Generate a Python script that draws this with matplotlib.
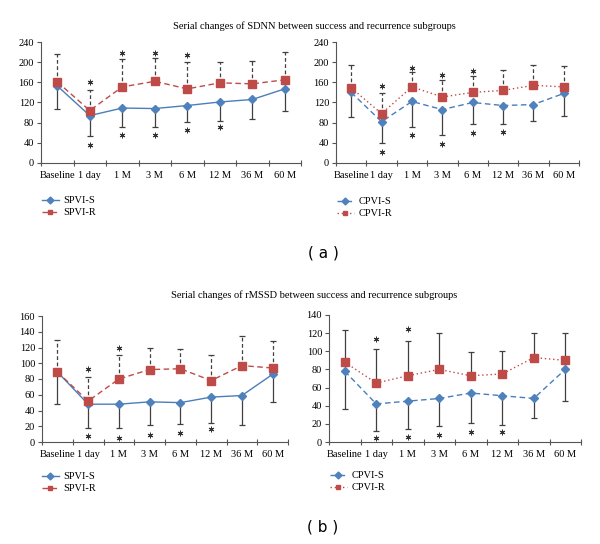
import numpy as np
import matplotlib.pyplot as plt

categories = ["Baseline", "1 day", "1 M", "3 M", "6 M", "12 M", "36 M", "60 M"]

# (a) SDNN
sdnn_spvi_s = [153, 94, 109, 108, 114, 121, 126, 147]
sdnn_spvi_r = [161, 104, 151, 162, 147, 159, 157, 165]
sdnn_spvi_lo = [107, 53, 71, 72, 82, 83, 87, 103]
sdnn_spvi_hi = [216, 145, 206, 209, 201, 200, 203, 221]
sdnn_spvi_star_top = [np.nan, 160, 219, 219, 214, np.nan, np.nan, np.nan]
sdnn_spvi_star_bot = [np.nan, 35, 56, 56, 66, 71, np.nan, np.nan]

sdnn_cpvi_s = [140, 82, 122, 106, 120, 114, 116, 138]
sdnn_cpvi_r = [149, 98, 151, 131, 140, 144, 154, 151]
sdnn_cpvi_lo = [91, 39, 72, 56, 77, 77, 83, 93]
sdnn_cpvi_hi = [195, 139, 180, 165, 172, 185, 195, 193]
sdnn_cpvi_star_top = [np.nan, 152, 188, 175, 183, np.nan, np.nan, np.nan]
sdnn_cpvi_star_bot = [np.nan, 21, 56, 38, 59, 61, np.nan, np.nan]

# (b) rMSSD
rmssd_spvi_s = [89, 48, 48, 51, 50, 57, 59, 86]
rmssd_spvi_r = [89, 52, 80, 92, 93, 78, 97, 94]
rmssd_spvi_lo = [48, 18, 18, 22, 23, 24, 21, 51]
rmssd_spvi_hi = [129, 82, 110, 120, 118, 111, 134, 128]
rmssd_spvi_star_top = [np.nan, 93, 120, np.nan, np.nan, np.nan, np.nan, np.nan]
rmssd_spvi_star_bot = [np.nan, 8, 5, 9, 11, 16, np.nan, np.nan]

rmssd_cpvi_s = [78, 42, 45, 48, 54, 51, 48, 80]
rmssd_cpvi_r = [88, 65, 73, 80, 73, 75, 93, 90]
rmssd_cpvi_lo = [36, 12, 14, 18, 21, 19, 27, 45]
rmssd_cpvi_hi = [123, 102, 111, 120, 99, 100, 120, 120]
rmssd_cpvi_star_top = [np.nan, 113, 125, np.nan, np.nan, np.nan, np.nan, np.nan]
rmssd_cpvi_star_bot = [np.nan, 4, 5, 8, 11, 11, np.nan, np.nan]

BLUE = "#4A7EBB"
RED = "#BE4B48"
BAR = "#404040"
SERIF = "Liberation Serif"

W, H = 600, 544
fig = plt.figure(figsize=(W / 100, H / 100), dpi=100)


def px_axes(x0, y0, x1, y1):
    return fig.add_axes([x0 / W, 1 - y1 / H, (x1 - x0) / W, (y1 - y0) / H])


def draw_panel(ax, s, r, lo, hi, star_top, star_bot, ymax, ystep,
               s_ls, r_ls, hi_ls, labels):
    x = np.arange(len(categories))
    s = np.array(s, float)
    r = np.array(r, float)
    # error bars: SD down from success group, up from recurrence group
    ax.vlines(x, lo, s, color=BAR, lw=0.9, zorder=1)
    ax.plot(x, lo, ls="none", marker="_", ms=4, mew=0.9, color=BAR, zorder=1)
    ax.vlines(x, r, hi, color=BAR, lw=0.9, linestyles=hi_ls, zorder=1)
    ax.plot(x, hi, ls="none", marker="_", ms=4, mew=0.9, color=BAR, zorder=1)
    # series
    ax.plot(x, s, ls=s_ls, lw=1.0, color=BLUE, marker="D", ms=4,
            mfc="#4F81BD", mec="#4F81BD", label=labels[0], zorder=3)
    ax.plot(x, r, ls=r_ls, lw=1.0, color=RED, marker="s", ms=5.5,
            mfc=RED, mec=RED, label=labels[1], zorder=3)
    # significance stars
    ax.plot(x, star_top, ls="none", marker=(6, 2, 0), ms=4, mew=0.7, color="#333333")
    ax.plot(x, star_bot, ls="none", marker=(6, 2, 0), ms=4, mew=0.7, color="#333333")

    ax.set_xlim(-0.5, len(categories) - 0.5)
    ax.set_ylim(0, ymax)
    ax.set_yticks(np.arange(0, ymax + 1, ystep))
    ax.set_xticks(np.arange(-0.5, len(categories)), labels=[""] * (len(categories) + 1))
    ax.set_xticks(x, labels=categories, minor=True)
    ax.tick_params(axis="x", which="major", direction="inout", length=4, width=0.8, color="#555555")
    ax.tick_params(axis="x", which="minor", length=0, pad=6)
    ax.tick_params(axis="y", direction="out", length=3, width=0.8, color="#555555", pad=2)
    for lab in ax.get_xticklabels(minor=True) + ax.get_yticklabels():
        lab.set_fontfamily(SERIF)
        lab.set_fontsize(7.5)
    for sp in ["top", "right"]:
        ax.spines[sp].set_visible(False)
    for sp in ["left", "bottom"]:
        ax.spines[sp].set_color("#555555")
        ax.spines[sp].set_linewidth(0.8)
    return ax


def legend(ax, x, y):
    leg = ax.legend(loc="upper left", bbox_to_anchor=(x, y), bbox_transform=fig.transFigure,
                    frameon=False, prop={"family": SERIF, "size": 7.5},
                    handlelength=1.6, handletextpad=0.45, labelspacing=0.25,
                    borderaxespad=0, borderpad=0)
    for h in leg.legend_handles:
        h.set_markersize(3.5)


ax1 = px_axes(41, 42, 301, 163)
draw_panel(ax1, sdnn_spvi_s, sdnn_spvi_r, sdnn_spvi_lo, sdnn_spvi_hi,
           sdnn_spvi_star_top, sdnn_spvi_star_bot, 240, 40,
           "-", (0, (4, 2.5)), (0, (3, 2)), ["SPVI-S", "SPVI-R"])
legend(ax1, 42 / W, 1 - 196 / H)

ax2 = px_axes(336, 42, 579, 163)
draw_panel(ax2, sdnn_cpvi_s, sdnn_cpvi_r, sdnn_cpvi_lo, sdnn_cpvi_hi,
           sdnn_cpvi_star_top, sdnn_cpvi_star_bot, 240, 40,
           (0, (4, 2.5)), (0, (1, 2)), (0, (3, 2)), ["CPVI-S", "CPVI-R"])
legend(ax2, 337 / W, 1 - 197 / H)

ax3 = px_axes(42, 316, 288, 442)
draw_panel(ax3, rmssd_spvi_s, rmssd_spvi_r, rmssd_spvi_lo, rmssd_spvi_hi,
           rmssd_spvi_star_top, rmssd_spvi_star_bot, 160, 20,
           "-", (0, (4, 2.5)), (0, (3, 2)), ["SPVI-S", "SPVI-R"])
legend(ax3, 42 / W, 1 - 472 / H)

ax4 = px_axes(329, 315, 581, 442)
draw_panel(ax4, rmssd_cpvi_s, rmssd_cpvi_r, rmssd_cpvi_lo, rmssd_cpvi_hi,
           rmssd_cpvi_star_top, rmssd_cpvi_star_bot, 140, 20,
           (0, (4, 2.5)), (0, (1, 2)), "-", ["CPVI-S", "CPVI-R"])
legend(ax4, 330 / W, 1 - 471 / H)

fig.text(314 / W, 1 - 26 / H, "Serial changes of SDNN between success and recurrence subgroups",
         ha="center", va="center", family=SERIF, fontsize=7.5)
fig.text(314 / W, 1 - 295 / H, "Serial changes of rMSSD between success and recurrence subgroups",
         ha="center", va="center", family=SERIF, fontsize=7.5)
fig.text(323 / W, 1 - 253 / H, "( a )", ha="center", va="center", family="DejaVu Sans", fontsize=11)
fig.text(323 / W, 1 - 527 / H, "( b )", ha="center", va="center", family="DejaVu Sans", fontsize=11)

fig.savefig("out.png", dpi=100, facecolor="white")
